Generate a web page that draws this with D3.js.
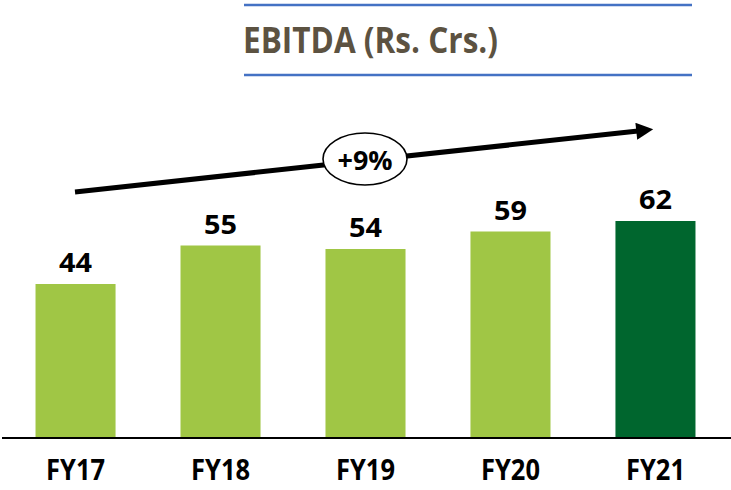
<!DOCTYPE html>
<html><head><meta charset="utf-8">
<script src="https://cdn.jsdelivr.net/npm/d3@7"></script>
<style>body{margin:0;background:#fff}svg{display:block}</style>
</head><body>
<script>
const categories = ["FY17","FY18","FY19","FY20","FY21"];
const values = [44,55,54,59,62];
const growthLabel = "+9%";
const title = "EBITDA (Rs. Crs.)";

const W=731,H=490;
const font = "'Open Sans', 'Noto Sans', sans-serif";
const svg=d3.select("body").append("svg").attr("width",W).attr("height",H);

// title band
svg.append("line").attr("x1",244).attr("x2",692).attr("y1",5).attr("y2",5).attr("stroke","#4472c4").attr("stroke-width",2.7);
svg.append("line").attr("x1",244).attr("x2",692).attr("y1",75).attr("y2",75).attr("stroke","#4472c4").attr("stroke-width",2.7);
svg.append("text").attr("x",243).attr("y",53).attr("text-anchor","start")
  .attr("font-family",font).attr("font-weight",700).attr("font-size",36)
  .attr("fill","#5c5241").attr("textLength",255).attr("lengthAdjust","spacingAndGlyphs").text(title);

const x=d3.scaleBand().domain(categories).range([0,731]).paddingInner(0.448).paddingOuter(0.245);
const baseY=438;
const y=d3.scaleLinear().domain([0,62]).range([baseY,221]);

svg.selectAll("rect.bar").data(values).join("rect").attr("class","bar")
  .attr("x",(d,i)=>x(categories[i])).attr("width",x.bandwidth())
  .attr("y",d=>y(d)).attr("height",d=>baseY-y(d))
  .attr("fill",(d,i)=>i===values.length-1?"#00662e":"#a0c645");

svg.selectAll("text.val").data(values).join("text").attr("class","val")
  .attr("x",(d,i)=>x(categories[i])+x.bandwidth()/2).attr("y",d=>y(d)-12)
  .attr("text-anchor","middle").attr("font-family",font).attr("font-weight",700)
  .attr("font-size",27).attr("fill","#000")
  .attr("textLength",33).attr("lengthAdjust","spacingAndGlyphs").text(d=>d);

// axis
const axis=d3.axisBottom(x).tickSize(0).tickPadding(0);
const g=svg.append("g").attr("transform",`translate(0,${baseY})`).call(axis);
g.select(".domain").remove();
g.selectAll("text").attr("font-family",font).attr("font-weight",700).attr("font-size",28).attr("fill","#000")
  .attr("y",42).attr("dy",0).attr("textLength",59).attr("lengthAdjust","spacingAndGlyphs");
svg.append("line").attr("x1",2).attr("x2",731).attr("y1",baseY).attr("y2",baseY).attr("stroke","#000").attr("stroke-width",2);

// growth arrow
const defs=svg.append("defs");
defs.append("marker").attr("id","ah").attr("viewBox","0 0 10 10").attr("refX",1).attr("refY",5)
  .attr("markerWidth",3.6).attr("markerHeight",3.4).attr("orient","auto")
  .append("path").attr("d","M0,0 L10,5 L0,10 z").attr("fill","#000");
const ax1=75, ay1=192, ax2=638, ay2=131;
svg.append("line").attr("x1",ax1).attr("y1",ay1).attr("x2",ax2).attr("y2",ay2)
  .attr("stroke","#000").attr("stroke-width",5).attr("marker-end","url(#ah)");
svg.append("ellipse").attr("cx",365).attr("cy",159).attr("rx",42).attr("ry",26)
  .attr("fill","#fff").attr("stroke","#000").attr("stroke-width",1.6);
svg.append("text").attr("x",365).attr("y",170).attr("text-anchor","middle")
  .attr("font-family",font).attr("font-weight",700).attr("font-size",26).attr("fill","#000")
  .attr("textLength",55).attr("lengthAdjust","spacingAndGlyphs").text(growthLabel);
</script>
</body></html>
